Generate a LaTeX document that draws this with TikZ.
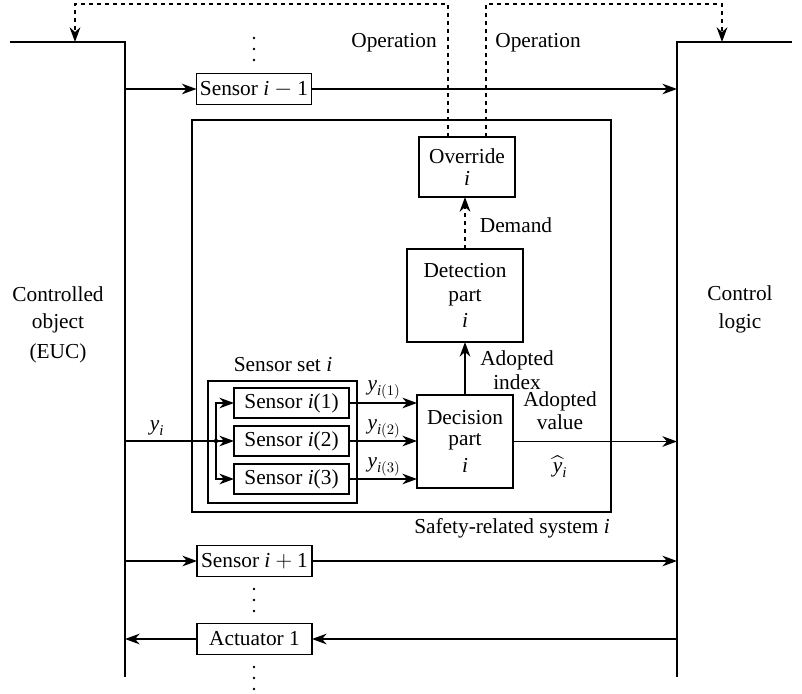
\documentclass[tikz,border=0pt]{standalone}
\usepackage{amsmath}
\usepackage{fontspec}
\setmainfont{Liberation Serif}
\usetikzlibrary{arrows.meta}
\begin{document}
\begin{tikzpicture}[x=0.75pt,y=-0.75pt,
  every node/.style={font=\fontsize{16}{16}\selectfont, inner sep=0pt, outer sep=0pt},
  blk/.style={draw, line width=0.8pt, align=center},
  sbox/.style={blk, minimum width=86.25pt, minimum height=23.25pt},
  ssub/.style={blk, minimum width=86.25pt, minimum height=22.5pt},
  ln/.style={line width=0.9pt},
  arr/.style={ln, -{Stealth[length=11pt,width=8pt,inset=3.5pt]}},
  dotl/.style={line width=1.7pt, dash pattern=on 3pt off 3pt},
  darr/.style={dotl, -{Stealth[length=11pt,width=8pt,inset=3.5pt]}},
  lbl/.style={align=center}
]
\useasboundingbox (0,0) rectangle (802,693);

% brackets (controlled object / control logic)
\coordinate (lt) at (10,42);
\coordinate (lc) at (125,42);
\coordinate (lb) at (125,677);
\coordinate (rt) at (792,42);
\coordinate (rc) at (677,42);
\coordinate (rb) at (677,677);
\draw[ln] (lt) -- (lc) -- (lb);
\draw[ln] (rt) -- (rc) -- (rb);

\node[lbl] (euc) at (58,325) {Controlled\\[4pt]object\\[7pt](EUC)};
\node[lbl] (clog) at (740,309) {Control\\[5pt]logic};

% safety related system
\node[blk, minimum width=314.25pt, minimum height=294pt] (srs) at (401.5,316) {};
\node[anchor=base] (srsl) at (512,533) {Safety-related system \textit{i}};

% sensor i-1
\node[sbox] (sm) at (254,89) {Sensor \textit{i}${}-{}$1};
\draw[arr] (lc |- sm.west) -- (sm.west);
\draw[arr] (sm.east) -- (rc |- sm.east);

% sensor i+1
\node[sbox] (sp) at (254.5,561) {Sensor \textit{i}${}+{}$1};
\draw[arr] (lc |- sp.west) -- (sp.west);
\draw[arr] (sp.east) -- (rc |- sp.east);

% actuator
\node[sbox] (act) at (254.5,639) {Actuator 1};
\draw[arr] (rc |- act.east) -- (act.east);
\draw[arr] (act.west) -- (lc |- act.west);

% vertical dots
\foreach \yy in {38,49,60,589,600,611,667,678,689}
  \fill (254,\yy) circle (1.3);

% sensor set
\node[blk, minimum width=111.75pt, minimum height=91.5pt] (sset) at (282.5,442) {};
\node[anchor=base] (ssetl) at (283,371) {Sensor set \textit{i}};
\node[ssub] (s1) at (291.5,403) {Sensor \textit{i}(1)};
\node[ssub] (s2) at (291.5,441) {Sensor \textit{i}(2)};
\node[ssub] (s3) at (291.5,479) {Sensor \textit{i}(3)};

\coordinate (br) at (216,441);
\draw[ln] (lc |- br) -- (br);
\fill (br) circle (2.2);
\draw[arr] (br) -- (s2.west);
\draw[arr] (br) |- (s1.west);
\draw[arr] (br) |- (s3.west);
\node (yi) at (157,428) {$\textit{y}_{\textit{i}}$};

% decision part
\node[blk, minimum width=72pt, minimum height=69.75pt] (dec) at (465,441.5) {Decision\\[0pt]part\\[4pt]\textit{i}};
\draw[arr] (s1.east) -- (s1.east -| dec.west);
\draw[arr] (s2.east) -- (s2.east -| dec.west);
\draw[arr] (s3.east) -- (s3.east -| dec.west);
\node (y1) at (384,390) {$\textit{y}_{\textit{i}(1)}$};
\node (y2) at (384,429) {$\textit{y}_{\textit{i}(2)}$};
\node (y3) at (384,467) {$\textit{y}_{\textit{i}(3)}$};

\draw[arr] (dec.east) -- (dec.east -| rc);
\node[lbl] (adv) at (560,411) {Adopted\\[1pt]value};
\node (yhat) at (560,467) {$\widehat{\textit{y}}_{\textit{i}}$};

% detection part
\node[blk, minimum width=87pt, minimum height=69.75pt] (det) at (465,295.5) {Detection\\[2pt]part\\[3pt]\textit{i}};
\draw[arr] (dec.north) -- (dec.north |- det.south);
\node[lbl] (adi) at (517,370) {Adopted\\[2pt]index};

% override
\node[blk, minimum width=72pt, minimum height=45pt] (ovr) at (467,167) {Override\\[1pt]\textit{i}};
\draw[darr] (det.north) -- (det.north |- ovr.south);
\node (dem) at (516,225) {Demand};

% operation lines
\coordinate (ol) at (448,4);
\coordinate (or) at (486,4);
\coordinate (tl) at (75,4);
\coordinate (tr) at (722,4);
\draw[darr] (ovr.north -| ol) -- (ol) -- (tl) -- (tl |- lt);
\draw[darr] (ovr.north -| or) -- (or) -- (tr) -- (tr |- rt);
\node (op1) at (394,43) {Operation};
\node (op2) at (538,43) {Operation};
\end{tikzpicture}
\end{document}
